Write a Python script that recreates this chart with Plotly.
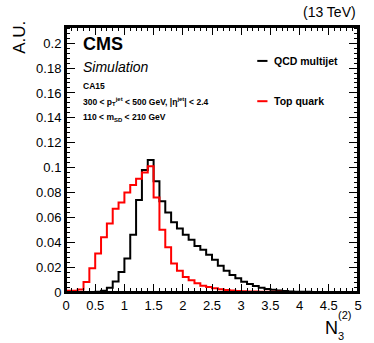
import numpy as np
import plotly.graph_objects as go

# ---- data (bin width 0.1, from 0 to 5) ----
bin_start = 0.0
bin_width = 0.1
qcd_multijet = [0, 0, 0, 0, 0, 0.0003, 0.001, 0.0035, 0.0085, 0.016,
                0.027, 0.046, 0.074, 0.098, 0.106, 0.089, 0.073, 0.064, 0.056, 0.051,
                0.046, 0.042, 0.037, 0.034, 0.030, 0.026, 0.021, 0.017, 0.0137, 0.011,
                0.0083, 0.0065, 0.0048, 0.0035, 0.0025, 0.0018, 0.0012, 0.0008, 0.0005, 0.0003,
                0.0002, 0.0002, 0.0001, 0.0001, 0.0001, 0.0001, 0, 0, 0, 0]
top_quark = [0.001, 0.001, 0.002, 0.008, 0.019, 0.031, 0.044, 0.055, 0.067, 0.072,
             0.080, 0.086, 0.091, 0.096, 0.101, 0.076, 0.050, 0.036, 0.023, 0.017,
             0.012, 0.0095, 0.007, 0.005, 0.004, 0.003, 0.0022, 0.0016, 0.0012, 0.0009,
             0.0007, 0.0005, 0.0004, 0.0003, 0.0002, 0.0002, 0.0002, 0.0001, 0.0001, 0.0001,
             0.0001, 0.0001, 0.0001, 0.0001, 0.0001, 0.0001, 0.0001, 0.0001, 0.0001, 0.0001]
series_names = ["QCD multijet", "Top quark"]
series_colors = ["#000000", "#ff0000"]

FONT = "Liberation Sans, Arial, Helvetica, sans-serif"

fig = go.Figure()
for name, vals, col in zip(series_names, [qcd_multijet, top_quark], series_colors):
    edges = bin_start + bin_width * np.arange(len(vals) + 1)
    fig.add_trace(go.Scatter(x=edges, y=list(vals) + [vals[-1]], mode="lines",
                             line=dict(shape="hv", color=col, width=2),
                             name=name, showlegend=False))

axis_common = dict(showline=True, linecolor="black", linewidth=2, mirror="allticks",
                   ticks="inside", tickcolor="black", tickwidth=1, showgrid=False,
                   zeroline=False, automargin=False,
                   tickfont=dict(family=FONT, size=13, color="black"))
fig.update_xaxes(range=[0, 5], dtick=0.5, ticklen=8,
                 minor=dict(ticks="inside", dtick=0.1, ticklen=4, tickcolor="black", tickwidth=1),
                 **axis_common)
fig.update_yaxes(range=[0, 0.213], dtick=0.02, ticklen=9,
                 minor=dict(ticks="inside", dtick=0.004, ticklen=4, tickcolor="black", tickwidth=1),
                 **axis_common)

ann = []
def add(text, x, y, size, xanchor="left", yanchor="middle", **kw):
    ann.append(dict(text=text, x=x, y=y, xref="paper", yref="paper", showarrow=False,
                    xanchor=xanchor, yanchor=yanchor,
                    font=dict(family=FONT, size=size, color="black"), **kw))

add("<b>CMS</b>", 0.052, 0.935, 18)
add("<i>Simulation</i>", 0.052, 0.85, 14)
add("<b>CA15</b>", 0.052, 0.778, 8.5)
add("<b>300 &lt; p<sub>T</sub><sup>jet</sup> &lt; 500 GeV, |η<sup>jet</sup>| &lt; 2.4</b>", 0.052, 0.72, 8.5)
add("<b>110 &lt; m<sub>SD</sub> &lt; 210 GeV</b>", 0.052, 0.66, 8.5)
add("<b>QCD multijet</b>", 0.705, 0.872, 10.5)
add("<b>Top quark</b>", 0.705, 0.72, 10.5)
add("(13 TeV)", 1.0, 1.055, 14, xanchor="right")
add("A.U.", -0.16, 1.03, 17, xanchor="center", yanchor="top", textangle=-90)
add("N", 0.88, -0.135, 18, xanchor="left")
add("3", 0.925, -0.165, 11, xanchor="left")
add("(2)", 0.925, -0.085, 11, xanchor="left")

fig.update_layout(width=374, height=343, margin=dict(l=66, r=16, t=27, b=51),
                  paper_bgcolor="white", plot_bgcolor="white", annotations=ann,
                  shapes=[dict(type="rect", xref="paper", yref="paper", x0=0, x1=1, y0=0, y1=1,
                               line=dict(color="black", width=2), layer="above"),
                          dict(type="line", xref="paper", yref="paper", x0=0.655, x1=0.69,
                               y0=0.872, y1=0.872, line=dict(color=series_colors[0], width=2)),
                          dict(type="line", xref="paper", yref="paper", x0=0.655, x1=0.69,
                               y0=0.72, y1=0.72, line=dict(color=series_colors[1], width=2))])
fig.write_html("out.html", config={"displayModeBar": False},
               post_script="document.body.style.margin='0';document.body.style.padding='0';")
